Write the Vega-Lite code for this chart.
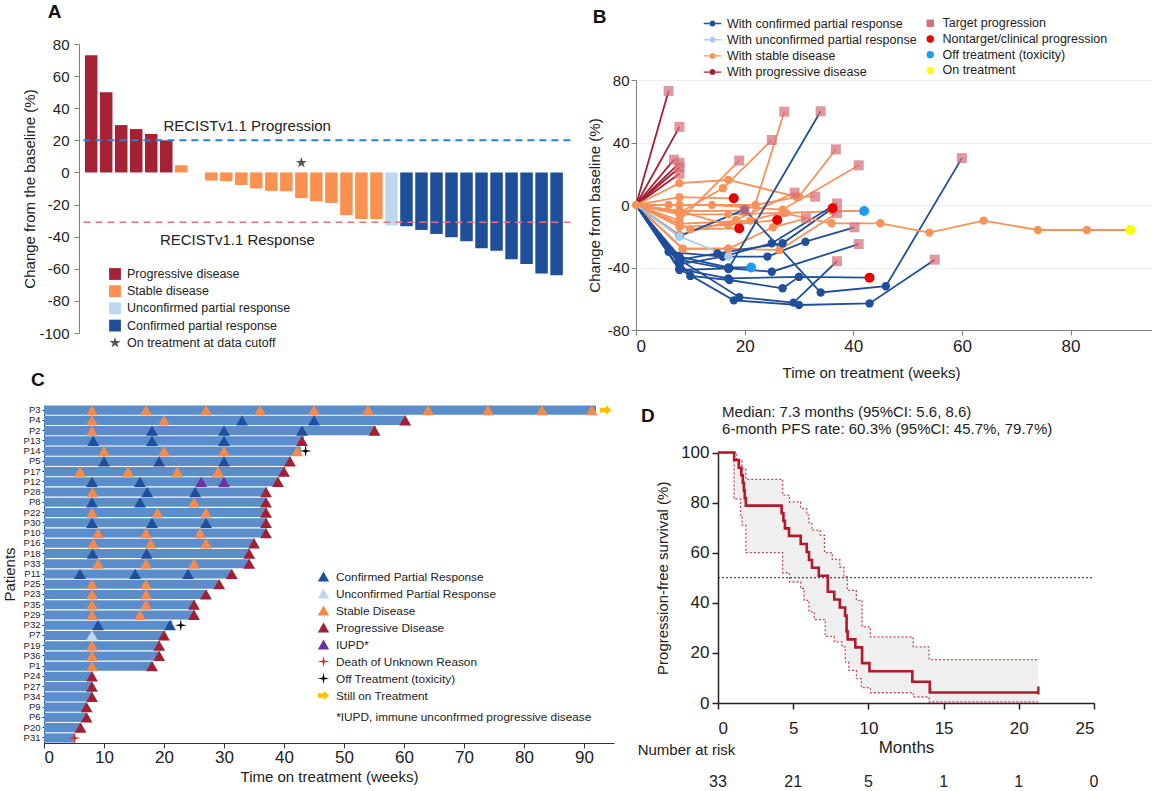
{
"$schema":"https://vega.github.io/schema/vega-lite/v6.json",
"background":"white",
"padding":{"left":2,"top":2,"right":0,"bottom":0},
"bounds":"flush",
"align":"each",
"columns":2,
"spacing":{"row":72,"column":22},
"resolve":{"scale":{"color":"independent","shape":"independent","opacity":"independent"},"legend":{"color":"independent","shape":"independent"}},
"config":{"font":"Liberation Sans","view":{"stroke":null},
"axis":{"labelFontSize":15,"titleFontSize":15,"titleFontWeight":"normal","labelColor":"#222","titleColor":"#222","domainColor":"#7f7f7f","tickColor":"#7f7f7f","grid":false,"labelOverlap":false},
"legend":{"labelColor":"#222","padding":0,"labelLimit":400},"text":{"color":"#222"}},
"datasets":{
"abar":[{"i":0,"v":73,"c":"PD"},{"i":1,"v":50,"c":"PD"},{"i":2,"v":29.5,"c":"PD"},{"i":3,"v":27,"c":"PD"},{"i":4,"v":24,"c":"PD"},{"i":5,"v":20,"c":"PD"},{"i":6,"v":4.5,"c":"SD"},{"i":7,"v":0,"c":"SD"},{"i":8,"v":-5,"c":"SD"},{"i":9,"v":-5.5,"c":"SD"},{"i":10,"v":-7.8,"c":"SD"},{"i":11,"v":-10,"c":"SD"},{"i":12,"v":-11.5,"c":"SD"},{"i":13,"v":-11.7,"c":"SD"},{"i":14,"v":-16,"c":"SD"},{"i":15,"v":-18,"c":"SD"},{"i":16,"v":-19,"c":"SD"},{"i":17,"v":-26.6,"c":"SD"},{"i":18,"v":-29,"c":"SD"},{"i":19,"v":-29,"c":"SD"},{"i":20,"v":-33,"c":"UPR"},{"i":21,"v":-33.5,"c":"CPR"},{"i":22,"v":-35.8,"c":"CPR"},{"i":23,"v":-38.3,"c":"CPR"},{"i":24,"v":-40.4,"c":"CPR"},{"i":25,"v":-42.8,"c":"CPR"},{"i":26,"v":-47.2,"c":"CPR"},{"i":27,"v":-48.7,"c":"CPR"},{"i":28,"v":-54,"c":"CPR"},{"i":29,"v":-57,"c":"CPR"},{"i":30,"v":-63,"c":"CPR"},{"i":31,"v":-64,"c":"CPR"}],
"bdat":[
{"p":"pd1","g":"p","w":0,"v":0,"k":""},{"p":"pd1","g":"p","w":6,"v":73,"k":"T"},
{"p":"pd2","g":"p","w":0,"v":0,"k":""},{"p":"pd2","g":"p","w":8,"v":50,"k":"T"},
{"p":"pd3","g":"p","w":0,"v":0,"k":""},{"p":"pd3","g":"p","w":7,"v":29,"k":"T"},
{"p":"pd4","g":"p","w":0,"v":0,"k":""},{"p":"pd4","g":"p","w":8,"v":27,"k":"T"},
{"p":"pd5","g":"p","w":0,"v":0,"k":""},{"p":"pd5","g":"p","w":8,"v":24,"k":"T"},
{"p":"pd6","g":"p","w":0,"v":0,"k":""},{"p":"pd6","g":"p","w":8,"v":20,"k":"T"},
{"p":"o2","g":"s","w":0,"v":0,"k":""},{"p":"o2","g":"s","w":8,"v":14,"k":""},{"p":"o2","g":"s","w":17,"v":16,"k":""},{"p":"o2","g":"s","w":29.5,"v":5.3,"k":""},{"p":"o2","g":"s","w":33,"v":5.3,"k":"T"},
{"p":"o3","g":"s","w":0,"v":0,"k":""},{"p":"o3","g":"s","w":8,"v":-5,"k":""},{"p":"o3","g":"s","w":16,"v":10.7,"k":""},{"p":"o3","g":"s","w":25,"v":41.6,"k":"T"},
{"p":"o4","g":"s","w":0,"v":0,"k":""},{"p":"o4","g":"s","w":8,"v":-10,"k":""},{"p":"o4","g":"s","w":19,"v":28.4,"k":"T"},
{"p":"o5","g":"s","w":0,"v":0,"k":""},{"p":"o5","g":"s","w":8,"v":-12,"k":""},{"p":"o5","g":"s","w":21,"v":-10,"k":""},{"p":"o5","g":"s","w":27.3,"v":59.7,"k":"T"},
{"p":"o6","g":"s","w":0,"v":0,"k":""},{"p":"o6","g":"s","w":8,"v":0,"k":""},{"p":"o6","g":"s","w":22,"v":0,"k":""},{"p":"o6","g":"s","w":30,"v":5.3,"k":""},{"p":"o6","g":"s","w":36.8,"v":35.6,"k":"T"},
{"p":"o7","g":"s","w":0,"v":0,"k":""},{"p":"o7","g":"s","w":6,"v":0,"k":""},{"p":"o7","g":"s","w":14,"v":0,"k":""},{"p":"o7","g":"s","w":27,"v":-3,"k":""},{"p":"o7","g":"s","w":41,"v":25.4,"k":"T"},
{"p":"o8","g":"s","w":0,"v":0,"k":""},{"p":"o8","g":"s","w":8,"v":5,"k":""},{"p":"o8","g":"s","w":18,"v":4.3,"k":"N"},
{"p":"o9","g":"s","w":0,"v":0,"k":""},{"p":"o9","g":"s","w":8,"v":-4,"k":""},{"p":"o9","g":"s","w":20,"v":-3.6,"k":"T"},
{"p":"o10","g":"s","w":0,"v":0,"k":""},{"p":"o10","g":"s","w":10,"v":-15.6,"k":""},{"p":"o10","g":"s","w":19,"v":-15,"k":"N"},
{"p":"o11","g":"s","w":0,"v":0,"k":""},{"p":"o11","g":"s","w":8,"v":-14,"k":""},{"p":"o11","g":"s","w":17,"v":-12.8,"k":""},{"p":"o11","g":"s","w":26,"v":-9.6,"k":"N"},
{"p":"o12","g":"s","w":0,"v":0,"k":""},{"p":"o12","g":"s","w":8.6,"v":-28,"k":""},{"p":"o12","g":"s","w":17,"v":-28,"k":""},{"p":"o12","g":"s","w":26.4,"v":-28.8,"k":""},{"p":"o12","g":"s","w":37,"v":-5.3,"k":"T"},
{"p":"o13","g":"s","w":0,"v":0,"k":""},{"p":"o13","g":"s","w":8,"v":-19,"k":""},{"p":"o13","g":"s","w":18.4,"v":-9.6,"k":""},{"p":"o13","g":"s","w":29.2,"v":7.9,"k":"T"},
{"p":"o14","g":"s","w":0,"v":0,"k":""},{"p":"o14","g":"s","w":8,"v":-6,"k":""},{"p":"o14","g":"s","w":17,"v":-6,"k":""},{"p":"o14","g":"s","w":27.6,"v":-5,"k":""},{"p":"o14","g":"s","w":36.2,"v":-4,"k":""},{"p":"o14","g":"s","w":42,"v":-3.8,"k":"O"},
{"p":"o15","g":"s","w":0,"v":0,"k":""},{"p":"o15","g":"s","w":8.6,"v":-28,"k":""},{"p":"o15","g":"s","w":17,"v":-28,"k":""},{"p":"o15","g":"s","w":25.2,"v":-14.3,"k":""},{"p":"o15","g":"s","w":31.3,"v":-8.5,"k":"T"},
{"p":"b1","g":"c","w":0,"v":0,"k":""},{"p":"b1","g":"c","w":8,"v":-41,"k":""},{"p":"b1","g":"c","w":18,"v":-61,"k":""},{"p":"b1","g":"c","w":30,"v":-64,"k":""},{"p":"b1","g":"c","w":43,"v":-63,"k":""},{"p":"b1","g":"c","w":55,"v":-35,"k":"T"},
{"p":"b2","g":"c","w":0,"v":0,"k":""},{"p":"b2","g":"c","w":8,"v":-35,"k":""},{"p":"b2","g":"c","w":19,"v":-59,"k":""},{"p":"b2","g":"c","w":29,"v":-62.5,"k":""},{"p":"b2","g":"c","w":37,"v":-36,"k":"T"},
{"p":"b3","g":"c","w":0,"v":0,"k":""},{"p":"b3","g":"c","w":8,"v":-41,"k":""},{"p":"b3","g":"c","w":17,"v":-47,"k":""},{"p":"b3","g":"c","w":30,"v":-46,"k":""},{"p":"b3","g":"c","w":43,"v":-46.5,"k":"N"},
{"p":"b4","g":"c","w":0,"v":0,"k":""},{"p":"b4","g":"c","w":8,"v":-35,"k":""},{"p":"b4","g":"c","w":17,"v":-41,"k":""},{"p":"b4","g":"c","w":34,"v":60,"k":"T"},
{"p":"b5","g":"c","w":0,"v":0,"k":""},{"p":"b5","g":"c","w":8,"v":-20,"k":""},{"p":"b5","g":"c","w":20,"v":-3,"k":""},{"p":"b5","g":"c","w":34,"v":-56,"k":""},{"p":"b5","g":"c","w":46,"v":-52,"k":""},{"p":"b5","g":"c","w":60,"v":30,"k":"T"},
{"p":"b6","g":"c","w":0,"v":0,"k":""},{"p":"b6","g":"c","w":6,"v":-30,"k":""},{"p":"b6","g":"c","w":16,"v":-33,"k":""},{"p":"b6","g":"c","w":25,"v":-24.5,"k":""},{"p":"b6","g":"c","w":37,"v":1,"k":"T"},
{"p":"b7","g":"c","w":0,"v":0,"k":""},{"p":"b7","g":"c","w":8,"v":-35,"k":""},{"p":"b7","g":"c","w":15,"v":-31,"k":""},{"p":"b7","g":"c","w":27,"v":-24.5,"k":""},{"p":"b7","g":"c","w":36.2,"v":-2.1,"k":"N"},
{"p":"b8","g":"c","w":0,"v":0,"k":""},{"p":"b8","g":"c","w":8,"v":-38,"k":""},{"p":"b8","g":"c","w":16,"v":-33,"k":""},{"p":"b8","g":"c","w":24.2,"v":-33,"k":""},{"p":"b8","g":"c","w":31.2,"v":-23.5,"k":""},{"p":"b8","g":"c","w":40.2,"v":-14.3,"k":"T"},
{"p":"b9","g":"c","w":0,"v":0,"k":""},{"p":"b9","g":"c","w":8,"v":-41.6,"k":""},{"p":"b9","g":"c","w":17.2,"v":-40.5,"k":""},{"p":"b9","g":"c","w":25,"v":-42.7,"k":""},{"p":"b9","g":"c","w":41,"v":-25,"k":"T"},
{"p":"b10","g":"c","w":0,"v":0,"k":""},{"p":"b10","g":"c","w":8,"v":-33,"k":""},{"p":"b10","g":"c","w":17,"v":-40,"k":""},{"p":"b10","g":"c","w":21.2,"v":-40,"k":"O"},
{"p":"b11","g":"c","w":0,"v":0,"k":""},{"p":"b11","g":"c","w":10,"v":-45.4,"k":""},{"p":"b11","g":"c","w":17.2,"v":-48,"k":""},{"p":"b11","g":"c","w":27,"v":-53.3,"k":""},{"p":"b11","g":"c","w":30,"v":-46,"k":""},
{"p":"u1","g":"u","w":0,"v":0,"k":""},{"p":"u1","g":"u","w":8,"v":-20,"k":""},{"p":"u1","g":"u","w":17,"v":-33,"k":""},
{"p":"o1","g":"s","w":0,"v":0,"k":""},{"p":"o1","g":"s","w":8,"v":-4,"k":""},{"p":"o1","g":"s","w":17,"v":-12.8,"k":""},{"p":"o1","g":"s","w":27,"v":-5,"k":""},{"p":"o1","g":"s","w":36,"v":-11.7,"k":""},{"p":"o1","g":"s","w":45,"v":-11.7,"k":""},{"p":"o1","g":"s","w":54,"v":-17.7,"k":""},{"p":"o1","g":"s","w":64,"v":-10,"k":""},{"p":"o1","g":"s","w":74,"v":-16,"k":""},{"p":"o1","g":"s","w":83,"v":-16,"k":""},{"p":"o1","g":"s","w":91,"v":-16,"k":"Y"}
],
"cbar":[{"p":"P3","e":92},{"p":"P4","e":60.3},{"p":"P2","e":55.3},{"p":"P13","e":43.3},{"p":"P14","e":42.8},{"p":"P5","e":41.2},{"p":"P17","e":40.2},{"p":"P12","e":39.2},{"p":"P28","e":37.2},{"p":"P8","e":37.2},{"p":"P22","e":37.2},{"p":"P30","e":37.2},{"p":"P10","e":37.2},{"p":"P16","e":35.2},{"p":"P18","e":34.3},{"p":"P33","e":34.3},{"p":"P11","e":31.4},{"p":"P25","e":29.3},{"p":"P23","e":27.2},{"p":"P35","e":25.2},{"p":"P29","e":25.2},{"p":"P32","e":21.4},{"p":"P7","e":20.2},{"p":"P19","e":19.3},{"p":"P36","e":19.3},{"p":"P1","e":18.2},{"p":"P24","e":8.1},{"p":"P27","e":8.1},{"p":"P34","e":8.1},{"p":"P9","e":7.1},{"p":"P6","e":7.1},{"p":"P20","e":6.1},{"p":"P31","e":5.1}],
"cev":[
{"p":"P3","w":8,"e":"SD"},{"p":"P3","w":17,"e":"SD"},{"p":"P3","w":27,"e":"SD"},{"p":"P3","w":36,"e":"SD"},{"p":"P3","w":45,"e":"SD"},{"p":"P3","w":54,"e":"SD"},{"p":"P3","w":64,"e":"SD"},{"p":"P3","w":74,"e":"SD"},{"p":"P3","w":83,"e":"SD"},{"p":"P3","w":91.3,"e":"SD"},{"p":"P3","w":93.6,"e":"ST"},
{"p":"P4","w":8,"e":"SD"},{"p":"P4","w":20,"e":"SD"},{"p":"P4","w":33,"e":"PR"},{"p":"P4","w":45,"e":"PR"},{"p":"P4","w":60.2,"e":"PD"},
{"p":"P2","w":8,"e":"SD"},{"p":"P2","w":18,"e":"PR"},{"p":"P2","w":30,"e":"PR"},{"p":"P2","w":43,"e":"PR"},{"p":"P2","w":55.1,"e":"PD"},
{"p":"P13","w":8.2,"e":"PR"},{"p":"P13","w":18,"e":"PR"},{"p":"P13","w":30,"e":"PR"},{"p":"P13","w":43,"e":"PD"},
{"p":"P14","w":10,"e":"SD"},{"p":"P14","w":20,"e":"SD"},{"p":"P14","w":30,"e":"SD"},{"p":"P14","w":42.2,"e":"SD"},{"p":"P14","w":43.6,"e":"OFF"},
{"p":"P5","w":10,"e":"PR"},{"p":"P5","w":19.2,"e":"PR"},{"p":"P5","w":30,"e":"PR"},{"p":"P5","w":41,"e":"PD"},
{"p":"P17","w":6,"e":"SD"},{"p":"P17","w":14,"e":"SD"},{"p":"P17","w":22.2,"e":"SD"},{"p":"P17","w":29,"e":"SD"},{"p":"P17","w":40,"e":"PD"},
{"p":"P12","w":8,"e":"PR"},{"p":"P12","w":16,"e":"PR"},{"p":"P12","w":26.2,"e":"IU"},{"p":"P12","w":30,"e":"IU"},{"p":"P12","w":39,"e":"PD"},
{"p":"P28","w":8.1,"e":"SD"},{"p":"P28","w":17.2,"e":"PR"},{"p":"P28","w":25.2,"e":"PR"},{"p":"P28","w":37,"e":"PD"},
{"p":"P8","w":8,"e":"PR"},{"p":"P8","w":16,"e":"PR"},{"p":"P8","w":25,"e":"SD"},{"p":"P8","w":37,"e":"PD"},
{"p":"P22","w":8,"e":"SD"},{"p":"P22","w":18.9,"e":"SD"},{"p":"P22","w":27,"e":"SD"},{"p":"P22","w":37,"e":"PD"},
{"p":"P30","w":8,"e":"PR"},{"p":"P30","w":18,"e":"PR"},{"p":"P30","w":27,"e":"PR"},{"p":"P30","w":37,"e":"PD"},
{"p":"P10","w":9,"e":"SD"},{"p":"P10","w":17,"e":"SD"},{"p":"P10","w":26,"e":"SD"},{"p":"P10","w":37,"e":"PD"},
{"p":"P16","w":8.2,"e":"SD"},{"p":"P16","w":17.8,"e":"SD"},{"p":"P16","w":27,"e":"SD"},{"p":"P16","w":35,"e":"PD"},
{"p":"P18","w":8.1,"e":"PR"},{"p":"P18","w":17.1,"e":"PR"},{"p":"P18","w":34.2,"e":"PD"},
{"p":"P33","w":9,"e":"SD"},{"p":"P33","w":17,"e":"SD"},{"p":"P33","w":25,"e":"SD"},{"p":"P33","w":34.2,"e":"PD"},
{"p":"P11","w":6,"e":"PR"},{"p":"P11","w":15.2,"e":"PR"},{"p":"P11","w":24,"e":"PR"},{"p":"P11","w":31.3,"e":"PD"},
{"p":"P25","w":8,"e":"SD"},{"p":"P25","w":17,"e":"SD"},{"p":"P25","w":29.2,"e":"PD"},
{"p":"P23","w":8,"e":"SD"},{"p":"P23","w":17,"e":"SD"},{"p":"P23","w":27,"e":"PD"},
{"p":"P35","w":8,"e":"SD"},{"p":"P35","w":17,"e":"SD"},{"p":"P35","w":25,"e":"PD"},
{"p":"P29","w":8,"e":"SD"},{"p":"P29","w":16,"e":"SD"},{"p":"P29","w":25,"e":"PD"},
{"p":"P32","w":9,"e":"PR"},{"p":"P32","w":21,"e":"PR"},{"p":"P32","w":22.8,"e":"OFF"},
{"p":"P7","w":8,"e":"UPR"},{"p":"P7","w":20,"e":"PD"},
{"p":"P19","w":8,"e":"SD"},{"p":"P19","w":19.2,"e":"PD"},
{"p":"P36","w":8,"e":"SD"},{"p":"P36","w":19.2,"e":"PD"},
{"p":"P1","w":8,"e":"SD"},{"p":"P1","w":18,"e":"PD"},
{"p":"P24","w":8,"e":"PD"},{"p":"P27","w":8,"e":"PD"},{"p":"P34","w":8,"e":"PD"},{"p":"P9","w":7.1,"e":"PD"},{"p":"P6","w":7.1,"e":"PD"},{"p":"P20","w":6.1,"e":"PD"},{"p":"P31","w":5.1,"e":"DE"}
],
"dci":[{"t":0,"lo":100,"hi":100},{"t":1.07,"lo":81.4,"hi":100},{"t":1.25,"lo":81.4,"hi":97},{"t":1.5,"lo":75,"hi":97},{"t":1.6,"lo":71,"hi":93.5},{"t":1.85,"lo":60,"hi":89.3},{"t":4.3,"lo":52,"hi":83},{"t":4.75,"lo":48.3,"hi":80.3},{"t":5.5,"lo":45.7,"hi":77.6},{"t":5.72,"lo":41,"hi":77.6},{"t":5.9,"lo":41,"hi":75},{"t":6.05,"lo":36.4,"hi":72},{"t":6.24,"lo":36.4,"hi":69},{"t":6.4,"lo":33.3,"hi":69},{"t":6.8,"lo":33.3,"hi":67},{"t":7.08,"lo":33.3,"hi":60},{"t":7.13,"lo":26.6,"hi":60},{"t":7.6,"lo":26.6,"hi":57.3},{"t":7.73,"lo":24.4,"hi":57.3},{"t":8.1,"lo":24.4,"hi":54.3},{"t":8.24,"lo":22.4,"hi":54.3},{"t":8.37,"lo":22.4,"hi":50.3},{"t":8.46,"lo":16.4,"hi":50.3},{"t":8.6,"lo":16.4,"hi":45},{"t":8.69,"lo":13,"hi":45},{"t":9.2,"lo":9.7,"hi":41},{"t":9.53,"lo":6.1,"hi":41},{"t":9.58,"lo":6.1,"hi":30.4},{"t":10.13,"lo":4.1,"hi":26.4},{"t":12.98,"lo":2.4,"hi":22.4},{"t":14.03,"lo":0.4,"hi":17.3},{"t":21.27,"lo":0.4,"hi":17.3}],
"dkm":[{"t":0,"s":100},{"t":1.07,"s":97},{"t":1.38,"s":93.9},{"t":1.55,"s":90.9},{"t":1.65,"s":87.9},{"t":1.72,"s":84.8},{"t":1.78,"s":81.8},{"t":1.85,"s":78.8},{"t":4.23,"s":75.8},{"t":4.35,"s":72.7},{"t":4.45,"s":69.7},{"t":4.72,"s":66.7},{"t":5.5,"s":63.5},{"t":5.9,"s":60.3},{"t":6.05,"s":57.1},{"t":6.25,"s":54},{"t":6.7,"s":50.8},{"t":7.3,"s":44.4},{"t":7.73,"s":41.3},{"t":8.1,"s":38.1},{"t":8.45,"s":34.9},{"t":8.55,"s":28.6},{"t":8.62,"s":25.4},{"t":9.13,"s":22.2},{"t":9.58,"s":15.9},{"t":10.07,"s":12.7},{"t":12.92,"s":8.5},{"t":14.08,"s":4.2},{"t":21.3,"s":4.2}]
},
"concat":[
{
"width":532,"height":289,
"encoding":{
"y":{"field":"v","type":"quantitative","scale":{"domain":[-100,80],"nice":false,"zero":false},"axis":{"title":"Change from the baseline (%)","offset":-35,"values":[-100,-80,-60,-40,-20,0,20,40,60,80],"labelExpr":"'' + datum.value","tickSize":5,"labelPadding":5,"titlePadding":1,"labelOverlap":false,"labelSeparation":0}},
"x":{"field":"i","type":"quantitative","scale":{"domain":[-2.81,31.96],"nice":false,"zero":false},"axis":null}
},
"layer":[
{"data":{"name":"abar"},"mark":{"type":"bar","size":12.5,"orient":"vertical"},
"encoding":{
"y2":{"datum":0},
"color":{"field":"c","type":"nominal","scale":{"domain":["PD","SD","UPR","CPR","ON"],"range":["#a52235","#fa9150","#bdd7ee","#1f4e9b","#555555"]},"legend":{"orient":"none","legendX":64,"legendY":223,"title":null,"padding":0,"symbolSize":140,"labelFontSize":12.5,"rowPadding":3.2,"labelOffset":5,"labelExpr":"{'PD':'Progressive disease','SD':'Stable disease','UPR':'Unconfirmed partial response','CPR':'Confirmed partial response','ON':'On treatment at data cutoff'}[datum.label]"}}}},
{"data":{"values":[{"v":20,"i":-0.52,"b":31.96}]},"mark":{"type":"rule","color":"#2c7fd9","strokeWidth":2,"strokeDash":[7,5]},
"encoding":{"x2":{"field":"b"}}},
{"data":{"values":[{"v":-31,"i":-0.52,"b":31.96}]},"mark":{"type":"rule","color":"#e8737c","strokeWidth":1.6,"strokeDash":[7,5]},
"encoding":{"x2":{"field":"b"}}},
{"data":{"values":[{"i":14,"v":6,"c":"ON"}]},"mark":{"type":"point","filled":true,"size":130,"opacity":1},
"encoding":{
"color":{"field":"c","type":"nominal","scale":{"domain":["PD","SD","UPR","CPR","ON"],"range":["#a52235","#fa9150","#bdd7ee","#1f4e9b","#555555"]},"legend":{"orient":"none","legendX":64,"legendY":223,"title":null,"padding":0,"symbolSize":140,"labelFontSize":12.5,"rowPadding":3.2,"labelOffset":5,"labelExpr":"{'PD':'Progressive disease','SD':'Stable disease','UPR':'Unconfirmed partial response','CPR':'Confirmed partial response','ON':'On treatment at data cutoff'}[datum.label]"}},
"shape":{"field":"c","type":"nominal","scale":{"domain":["PD","SD","UPR","CPR","ON"],"range":["square","square","square","square","M0,-1L0.2245,-0.309L0.951,-0.309L0.363,0.118L0.588,0.809L0,0.382L-0.588,0.809L-0.363,0.118L-0.951,-0.309L-0.2245,-0.309Z"]},"legend":{"orient":"none","legendX":64,"legendY":223,"title":null,"padding":0,"symbolSize":140,"labelFontSize":12.5,"rowPadding":3.2,"labelOffset":5,"labelExpr":"{'PD':'Progressive disease','SD':'Stable disease','UPR':'Unconfirmed partial response','CPR':'Confirmed partial response','ON':'On treatment at data cutoff'}[datum.label]"}}}},
{"data":{"values":[{"i":10.39,"v":25.8,"t":"RECISTv1.1 Progression"},{"i":9.74,"v":-45.2,"t":"RECISTv1.1 Response"}]},"mark":{"type":"text","fontSize":15,"baseline":"alphabetic","align":"center"},
"encoding":{"text":{"field":"t"}}},
{"data":{"values":[{"i":-2.9,"v":100.1,"t":"A"}]},"mark":{"type":"text","fontSize":19,"fontWeight":"bold","align":"left","baseline":"middle","color":"#111"},
"encoding":{"text":{"field":"t"}}}
]
},
{
"width":516,"height":286,
"data":{"name":"bdat"},
"layer":[
{"mark":{"type":"line","strokeWidth":1.8},
"encoding":{
"x":{"field":"w","type":"quantitative","scale":{"domain":[0,95],"nice":false},"axis":{"values":[0,20,40,60,80],"title":"Time on treatment (weeks)","titleX":235,"tickSize":5,"labelFontSize":17,"labelPadding":3,"titlePadding":11}},
"y":{"field":"v","type":"quantitative","scale":{"domain":[-80,80],"range":[286,36],"nice":false},"axis":{"values":[-80,-60,-40,-20,0,20,40,60,80],"labelExpr":"'' + datum.value","title":"Change from baseline (%)","grid":true,"gridColor":"#eeeeee","tickSize":5,"titlePadding":5}},
"detail":{"field":"p"},
"order":{"field":"w","type":"quantitative"},
"color":{"field":"g","type":"nominal","scale":{"domain":["c","u","s","p"],"range":["#1f4e9a","#a9cdee","#f7925a","#a31f34"]},"legend":null}}},
{"transform":[{"filter":"datum.k=='' && (datum.w>0 || datum.p=='o1')"}],
"mark":{"type":"point","filled":true,"shape":"circle","size":70,"opacity":1},
"encoding":{
"x":{"field":"w","type":"quantitative","scale":{"domain":[0,95],"nice":false}},
"y":{"field":"v","type":"quantitative","scale":{"domain":[-80,80],"range":[286,36],"nice":false}},
"color":{"field":"g","type":"nominal","scale":{"domain":["c","u","s","p"],"range":["#1f4e9a","#a9cdee","#f7925a","#a31f34"]},
"legend":{"orient":"none","legendX":70,"legendY":-27,"title":null,"padding":0,"symbolType":"M-1.6,-0.13H-0.5V0.13H-1.6Z M0.5,-0.13H1.6V0.13H0.5Z M-0.55,0A0.55,0.55 0 1,0 0.55,0A0.55,0.55 0 1,0 -0.55,0Z","symbolSize":120,"labelFontSize":12.5,"rowPadding":3.2,"labelOffset":8,"labelExpr":"{'c':'With confirmed partial response','u':'With unconfirmed partial response','s':'With stable disease','p':'With progressive disease'}[datum.label]"}}}},
{"transform":[{"filter":"datum.k!=''"}],
"mark":{"type":"point","filled":true,"size":100},
"encoding":{
"x":{"field":"w","type":"quantitative","scale":{"domain":[0,95],"nice":false}},
"y":{"field":"v","type":"quantitative","scale":{"domain":[-80,80],"range":[286,36],"nice":false}},
"color":{"field":"k","type":"nominal","scale":{"domain":["T","N","O","Y"],"range":["#d66f7c","#e60000","#1e9df0","#ffff00"]},"legend":{"orient":"none","legendX":288,"legendY":-27,"title":null,"padding":0,"symbolSize":55,"labelFontSize":12.5,"rowPadding":2.7,"labelOffset":6,"labelExpr":"{'T':'Target progression','N':'Nontarget/clinical progression','O':'Off treatment (toxicity)','Y':'On treatment'}[datum.label]"}},
"shape":{"field":"k","type":"nominal","scale":{"domain":["T","N","O","Y"],"range":["square","circle","circle","circle"]},"legend":{"orient":"none","legendX":288,"legendY":-27,"title":null,"padding":0,"symbolSize":55,"labelFontSize":12.5,"rowPadding":2.7,"labelOffset":6,"labelExpr":"{'T':'Target progression','N':'Nontarget/clinical progression','O':'Off treatment (toxicity)','Y':'On treatment'}[datum.label]"}},
"opacity":{"condition":{"test":"datum.k=='T'","value":0.72},"value":1}}},
{"data":{"values":[{"w":-7.97,"v":120.5,"t":"B"}]},"mark":{"type":"text","fontSize":19,"fontWeight":"bold","align":"left","baseline":"middle","color":"#111"},
"encoding":{"x":{"field":"w","type":"quantitative","scale":{"domain":[0,95],"nice":false}},"y":{"field":"v","type":"quantitative","scale":{"domain":[-80,80],"range":[286,36],"nice":false}},"text":{"field":"t"}}}
],
"resolve":{"scale":{"color":"independent","shape":"independent"}}
},
{
"width":570,"height":338,
"layer":[
{"data":{"name":"cbar"},"mark":{"type":"bar","color":"#5a8dc9"},
"encoding":{
"y":{"field":"p","type":"nominal","scale":{"domain":["P3","P4","P2","P13","P14","P5","P17","P12","P28","P8","P22","P30","P10","P16","P18","P33","P11","P25","P23","P35","P29","P32","P7","P19","P36","P1","P24","P27","P34","P9","P6","P20","P31"],"paddingInner":0.1,"paddingOuter":0.04},"axis":{"title":"Patients","labelFontSize":9.5,"tickSize":2,"labelPadding":2,"titlePadding":6,"domainColor":"#333","tickColor":"#333"}},
"x":{"field":"e","type":"quantitative","scale":{"domain":[0,95],"nice":false},"axis":{"values":[0,5,10,15,20,25,30,35,40,45,50,55,60,65,70,75,80,85,90,95],"title":"Time on treatment (weeks)","tickSize":5,"labelFontSize":17,"labelPadding":1,"titlePadding":4,"domainColor":"#333","tickColor":"#333"}}}},
{"data":{"name":"cev"},"mark":{"type":"point","filled":true,"size":140,"opacity":1},
"encoding":{
"y":{"field":"p","type":"nominal","scale":{"domain":["P3","P4","P2","P13","P14","P5","P17","P12","P28","P8","P22","P30","P10","P16","P18","P33","P11","P25","P23","P35","P29","P32","P7","P19","P36","P1","P24","P27","P34","P9","P6","P20","P31"],"paddingInner":0.1,"paddingOuter":0.04}},
"x":{"field":"w","type":"quantitative","scale":{"domain":[0,95],"nice":false}},
"color":{"field":"e","type":"nominal","scale":{"domain":["PR","UPR","SD","PD","IU","DE","OFF","ST"],"range":["#1f4e9b","#bdd7ee","#f78a4b","#a31f34","#7030a0","#e62222","#000000","#ffc000"]},"legend":{"orient":"none","legendX":273,"legendY":165,"title":null,"padding":0,"symbolSize":130,"labelFontSize":11.8,"rowPadding":3,"labelOffset":6,"labelExpr":"{'PR':'Confirmed Partial Response','UPR':'Unconfirmed Partial Response','SD':'Stable Disease','PD':'Progressive Disease','IU':'IUPD*','DE':'Death of Unknown Reason','OFF':'Off Treatment (toxicity)','ST':'Still on Treatment'}[datum.label]"}},
"shape":{"field":"e","type":"nominal","scale":{"domain":["PR","UPR","SD","PD","IU","DE","OFF","ST"],"range":["triangle-up","triangle-up","triangle-up","triangle-up","triangle-up","M0,-1L0.16,-0.16L1,0L0.16,0.16L0,1L-0.16,0.16L-1,0L-0.16,-0.16Z","M0,-1L0.16,-0.16L1,0L0.16,0.16L0,1L-0.16,0.16L-1,0L-0.16,-0.16Z","M-1,-0.4H0.05V-0.85L1,0L0.05,0.85V0.4H-1Z"]},"legend":{"orient":"none","legendX":273,"legendY":165,"title":null,"padding":0,"symbolSize":130,"labelFontSize":11.8,"rowPadding":3,"labelOffset":6,"labelExpr":"{'PR':'Confirmed Partial Response','UPR':'Unconfirmed Partial Response','SD':'Stable Disease','PD':'Progressive Disease','IU':'IUPD*','DE':'Death of Unknown Reason','OFF':'Off Treatment (toxicity)','ST':'Still on Treatment'}[datum.label]"}}}},
{"data":{"values":[{"w":48.7,"p":"P6","t":"*IUPD, immune unconfrmed progressive disease"}]},"mark":{"type":"text","align":"left","baseline":"middle","fontSize":11.8},
"encoding":{"y":{"field":"p","type":"nominal","scale":{"domain":["P3","P4","P2","P13","P14","P5","P17","P12","P28","P8","P22","P30","P10","P16","P18","P33","P11","P25","P23","P35","P29","P32","P7","P19","P36","P1","P24","P27","P34","P9","P6","P20","P31"],"paddingInner":0.1,"paddingOuter":0.04}},"x":{"field":"w","type":"quantitative","scale":{"domain":[0,95],"nice":false}},"text":{"field":"t"}}},
{"data":{"values":[{"w":-2.17,"p":"P3","t":"C"}]},"mark":{"type":"text","align":"left","baseline":"middle","fontSize":19,"fontWeight":"bold","yOffset":-30,"color":"#111"},
"encoding":{"y":{"field":"p","type":"nominal","scale":{"domain":["P3","P4","P2","P13","P14","P5","P17","P12","P28","P8","P22","P30","P10","P16","P18","P33","P11","P25","P23","P35","P29","P32","P7","P19","P36","P1","P24","P27","P34","P9","P6","P20","P31"],"paddingInner":0.1,"paddingOuter":0.04}},"x":{"field":"w","type":"quantitative","scale":{"domain":[0,95],"nice":false}},"text":{"field":"t"}}}
]
},
{
"width":458,"height":298,
"layer":[
{"data":{"name":"dci"},"mark":{"type":"area","interpolate":"step-after","color":"#efefef"},
"encoding":{
"x":{"field":"t","type":"quantitative","scale":{"domain":[0,25],"range":[82,458],"nice":false},"axis":{"values":[0,5,10,15,20,25],"title":"Months","tickSize":6,"labelFontSize":17,"titleFontSize":17,"labelPadding":11,"titlePadding":3,"domainColor":"#222","tickColor":"#222","domainWidth":1.5,"tickWidth":1.5}},
"y":{"field":"hi","type":"quantitative","scale":{"domain":[0,100],"range":[298,47.5],"nice":false},"axis":{"values":[0,20,40,60,80,100],"title":"Progression-free survival (%)","offset":-82,"tickSize":6,"labelFontSize":17,"titleFontSize":15,"labelPadding":3,"titlePadding":10,"domainColor":"#222","tickColor":"#222","domainWidth":1.5,"tickWidth":1.5}},
"y2":{"field":"lo"}}},
{"data":{"name":"dci"},"mark":{"type":"line","interpolate":"step-after","color":"#c44a5a","strokeWidth":1.3,"strokeDash":[2,2]},
"encoding":{"x":{"field":"t","type":"quantitative","scale":{"domain":[0,25],"range":[82,458],"nice":false}},"y":{"field":"hi","type":"quantitative","scale":{"domain":[0,100],"range":[298,47.5],"nice":false}}}},
{"data":{"name":"dci"},"mark":{"type":"line","interpolate":"step-after","color":"#c44a5a","strokeWidth":1.3,"strokeDash":[2,2]},
"encoding":{"x":{"field":"t","type":"quantitative","scale":{"domain":[0,25],"range":[82,458],"nice":false}},"y":{"field":"lo","type":"quantitative","scale":{"domain":[0,100],"range":[298,47.5],"nice":false}}}},
{"data":{"values":[{"a":0,"b":25,"y":50}]},"mark":{"type":"rule","color":"#222","strokeDash":[2,2],"strokeWidth":1.2},
"encoding":{"x":{"field":"a","type":"quantitative","scale":{"domain":[0,25],"range":[82,458],"nice":false}},"x2":{"field":"b"},"y":{"field":"y","type":"quantitative","scale":{"domain":[0,100],"range":[298,47.5],"nice":false}}}},
{"data":{"name":"dkm"},"mark":{"type":"line","interpolate":"step-after","color":"#b3182b","strokeWidth":2.6},
"encoding":{"x":{"field":"t","type":"quantitative","scale":{"domain":[0,25],"range":[82,458],"nice":false}},"y":{"field":"s","type":"quantitative","scale":{"domain":[0,100],"range":[298,47.5],"nice":false}}}},
{"data":{"values":[{"t":21.3,"a":3.4,"b":6.6}]},"mark":{"type":"rule","color":"#b3182b","strokeWidth":2.4},
"encoding":{"x":{"field":"t","type":"quantitative","scale":{"domain":[0,25],"range":[82,458],"nice":false}},"y":{"field":"a","type":"quantitative","scale":{"domain":[0,100],"range":[298,47.5],"nice":false}},"y2":{"field":"b"}}},
{"data":{"values":[{"t":0.27,"s":116.3,"x":"Median: 7.3 months (95%CI: 5.6, 8.6)"},{"t":0.27,"s":109.3,"x":"6-month PFS rate: 60.3% (95%CI: 45.7%, 79.7%)"},{"t":-5.34,"s":-18.9,"x":"Number at risk"}]},"mark":{"type":"text","align":"left","baseline":"middle","fontSize":15},
"encoding":{"x":{"field":"t","type":"quantitative","scale":{"domain":[0,25],"range":[82,458],"nice":false}},"y":{"field":"s","type":"quantitative","scale":{"domain":[0,100],"range":[298,47.5],"nice":false}},"text":{"field":"x"}}},
{"data":{"values":[{"t":0,"s":-31.6,"x":"33"},{"t":5,"s":-31.6,"x":"21"},{"t":10,"s":-31.6,"x":"5"},{"t":15,"s":-31.6,"x":"1"},{"t":20,"s":-31.6,"x":"1"},{"t":25,"s":-31.6,"x":"0"}]},"mark":{"type":"text","align":"center","baseline":"middle","fontSize":16},
"encoding":{"x":{"field":"t","type":"quantitative","scale":{"domain":[0,25],"range":[82,458],"nice":false}},"y":{"field":"s","type":"quantitative","scale":{"domain":[0,100],"range":[298,47.5],"nice":false}},"text":{"field":"x"}}},
{"data":{"values":[{"t":-5.12,"s":114.4,"x":"D"}]},"mark":{"type":"text","align":"left","baseline":"middle","fontSize":19,"fontWeight":"bold","color":"#111"},
"encoding":{"x":{"field":"t","type":"quantitative","scale":{"domain":[0,25],"range":[82,458],"nice":false}},"y":{"field":"s","type":"quantitative","scale":{"domain":[0,100],"range":[298,47.5],"nice":false}},"text":{"field":"x"}}}
]
}
]
}
